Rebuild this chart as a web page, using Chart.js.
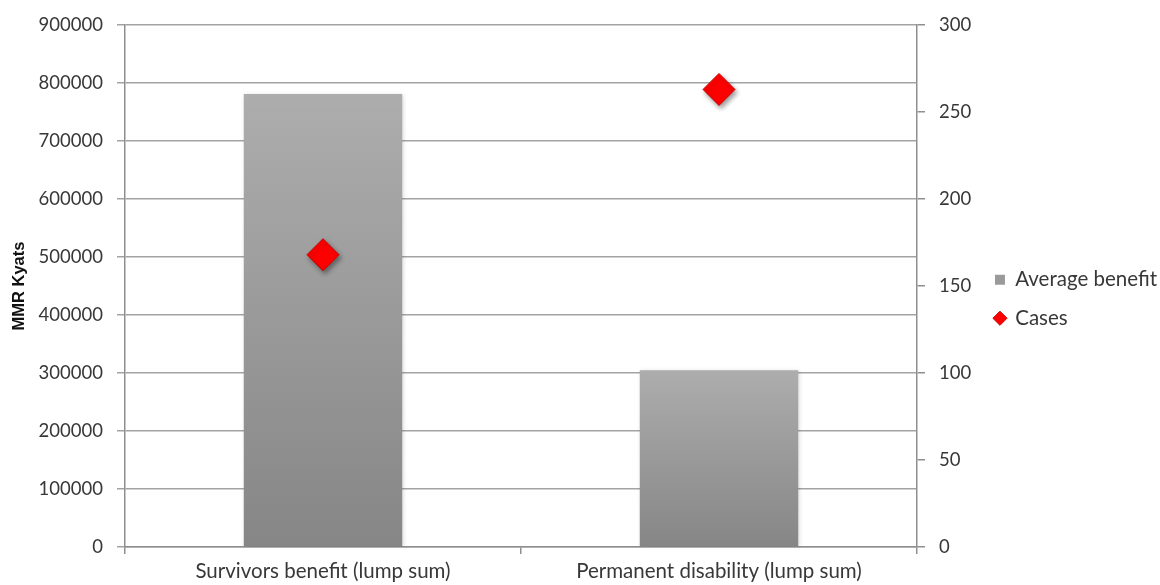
<!DOCTYPE html>
<html>
<head>
<meta charset="utf-8">
<script src="https://cdn.jsdelivr.net/npm/chart.js@4.4.1/dist/chart.umd.min.js"></script>
<style>
  html, body { margin: 0; padding: 0; background: #ffffff; }
  #wrap { width: 1160px; height: 585px; }
</style>
</head>
<body>
<div id="wrap"><canvas id="c" width="1160" height="585"></canvas></div>
<script>
// Lump-sum benefits: average amount paid (left axis) and number of cases (right axis)
const categories = ['Survivors benefit (lump sum)', 'Permanent disability (lump sum)'];
const averageBenefit = [781000, 305000];
const cases = [168, 263];
const seriesNames = ['Average benefit', 'Cases'];
const axisTitle = 'MMR Kyats';

const FONT = 'Lato, "Open Sans", sans-serif';
const TEXT = '#383838';
const GRID = '#a3a3a3';
const AXIS = '#8f8f8f';

// vertical grey gradient for each bar, from its top to the baseline
function barFill(ctx) {
  const chart = ctx.chart;
  if (!chart.chartArea || ctx.type !== 'data') return '#999999';
  const y = chart.scales.y;
  const top = y.getPixelForValue(ctx.raw);
  const base = y.getPixelForValue(0);
  const g = chart.ctx.createLinearGradient(0, top, 0, base);
  g.addColorStop(0, '#adadad');
  g.addColorStop(1, '#868686');
  return g;
}

// soft drop shadows under bars and markers
const shadows = {
  id: 'shadows',
  beforeDatasetDraw(chart, args) {
    const c = chart.ctx;
    c.save();
    if (args.meta.type === 'bar') {
      c.shadowColor = 'rgba(0,0,0,0.18)';
      c.shadowBlur = 4;
      c.shadowOffsetX = 1;
      c.shadowOffsetY = 1;
    } else {
      c.shadowColor = 'rgba(0,0,0,0.40)';
      c.shadowBlur = 5;
      c.shadowOffsetX = 2;
      c.shadowOffsetY = 3;
    }
  },
  afterDatasetDraw(chart) {
    chart.ctx.restore();
  }
};

const plainNumber = (v) => String(v);

new Chart(document.getElementById('c'), {
  data: {
    labels: categories,
    datasets: [
      {
        type: 'bar',
        label: seriesNames[0],
        data: averageBenefit,
        yAxisID: 'y',
        backgroundColor: barFill,
        borderWidth: 0,
        barPercentage: 0.4,
        categoryPercentage: 1.0,
        pointStyle: 'rect',
        order: 2
      },
      {
        type: 'line',
        label: seriesNames[1],
        data: cases,
        yAxisID: 'y1',
        showLine: false,
        pointStyle: 'rectRot',
        pointRadius: 16,
        pointHoverRadius: 16,
        backgroundColor: '#ff0000',
        borderColor: '#cc0000',
        pointBorderWidth: 1,
        order: 1
      }
    ]
  },
  options: {
    responsive: false,
    animation: false,
    events: [],
    layout: { padding: { top: 13, bottom: 0, left: 0, right: -7 } },
    plugins: {
      tooltip: { enabled: false },
      // empty spacer strip above the plot area
      title: { display: true, text: '', padding: 0, font: { size: 10, lineHeight: 1.2 } },
      legend: {
        position: 'right',
        align: 'center',
        labels: {
          usePointStyle: true,
          boxWidth: 10,
          boxHeight: 10,
          padding: 18,
          color: TEXT,
          font: { family: FONT, size: 20.5 },
          sort: (a, b) => a.datasetIndex - b.datasetIndex,
          generateLabels(chart) {
            const items = Chart.defaults.plugins.legend.labels.generateLabels(chart);
            items.forEach((it) => {
              if (it.datasetIndex === 0) {
                it.fillStyle = '#9a9a9a';
                it.strokeStyle = '#9a9a9a';
                it.lineWidth = 0;
                it.pointStyle = 'rect';
              } else {
                it.fillStyle = '#ff0000';
                it.strokeStyle = '#cc0000';
                it.lineWidth = 1;
                it.pointStyle = 'rectRot';
              }
            });
            return items;
          }
        }
      }
    },
    scales: {
      x: {
        type: 'category',
        offset: true,
        grid: { display: true, drawOnChartArea: false, drawTicks: true, tickLength: 7, color: AXIS, lineWidth: 1.5 },
        border: { display: true, color: AXIS, width: 1.5 },
        ticks: { color: TEXT, font: { family: FONT, size: 20.5 }, padding: 5, maxRotation: 0, autoSkip: false },
        afterFit(scale) { scale.height = 38; }
      },
      y: {
        type: 'linear',
        position: 'left',
        min: 0,
        max: 900000,
        ticks: { stepSize: 100000, color: TEXT, font: { family: FONT, size: 18.5 }, padding: 14, callback: plainNumber },
        grid: { color: GRID, lineWidth: 1.5, tickLength: 8 },
        border: { display: true, color: AXIS, width: 1.5 },
        title: { display: true, text: axisTitle, color: '#111111', font: { family: '"Liberation Sans", Arial, sans-serif', size: 16.5, weight: 'bold' }, padding: { top: 10, bottom: 0 } },
        afterFit(scale) { scale.width = 125; }
      },
      y1: {
        type: 'linear',
        position: 'right',
        min: 0,
        max: 300,
        ticks: { stepSize: 50, color: TEXT, font: { family: FONT, size: 18.5 }, padding: 14, callback: plainNumber },
        grid: { drawOnChartArea: false, color: AXIS, lineWidth: 1.5, tickLength: 8 },
        border: { display: true, color: AXIS, width: 1.5 },
        afterFit(scale) {
          const lg = scale.chart.legend;
          const lw = lg && lg.width ? lg.width : 190;
          scale.width = Math.max(40, 1167 - 917 - lw);
        }
      }
    }
  },
  plugins: [shadows]
});
</script>
</body>
</html>
